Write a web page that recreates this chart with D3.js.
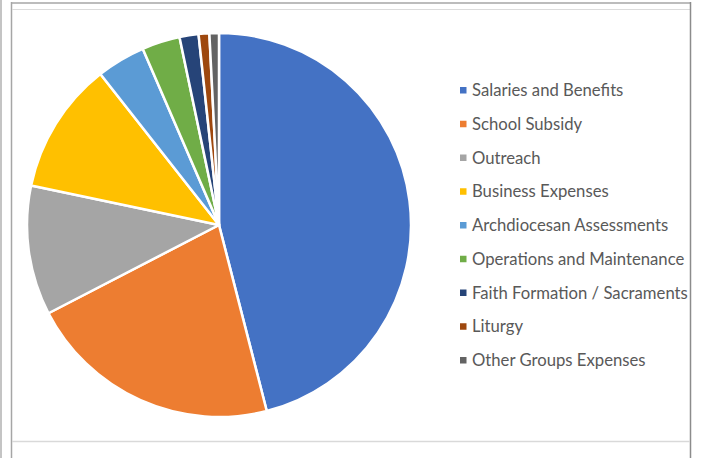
<!DOCTYPE html>
<html><head><meta charset="utf-8">
<script src="https://cdn.jsdelivr.net/npm/d3@7"></script>
<style>body{margin:0;background:#fff}svg{display:block}</style>
</head><body>
<script>
const categories = ["Salaries and Benefits","School Subsidy","Outreach","Business Expenses","Archdiocesan Assessments","Operations and Maintenance","Faith Formation / Sacraments","Liturgy","Other Groups Expenses"];
const values = [46.0,21.4,10.9,11.1,4.1,3.2,1.6,0.9,0.8];
const colors = ["#4472C4","#ED7D31","#A5A5A5","#FFC000","#5B9BD5","#70AD47","#264478","#9E480E","#636363"];

const W=704,H=458;
const svg=d3.select("body").append("svg").attr("width",W).attr("height",H);

// frame lines
svg.append("line").attr("x1",1).attr("x2",1).attr("y1",0).attr("y2",H).attr("stroke","#c4c4c4").attr("stroke-width",2);
svg.append("line").attr("x1",11.5).attr("x2",11.5).attr("y1",2).attr("y2",H).attr("stroke","#a6a6a6").attr("stroke-width",1.5);
svg.append("line").attr("x1",11).attr("x2",691).attr("y1",3).attr("y2",3).attr("stroke","#a6a6a6").attr("stroke-width",1.5);
svg.append("line").attr("x1",12).attr("x2",690).attr("y1",9.5).attr("y2",9.5).attr("stroke","#dcdcdc").attr("stroke-width",1);
svg.append("line").attr("x1",690.5).attr("x2",690.5).attr("y1",2).attr("y2",H).attr("stroke","#8c8c8c").attr("stroke-width",1.5);
svg.append("line").attr("x1",12).attr("x2",690).attr("y1",441.5).attr("y2",441.5).attr("stroke","#d9d9d9").attr("stroke-width",1.5);

const cx=219, cy=225, r=192;
const pie=d3.pie().sort(null).value(d=>d)(values);
const arc=d3.arc().innerRadius(0).outerRadius(r);
svg.append("g").attr("transform",`translate(${cx},${cy})`)
  .selectAll("path").data(pie).join("path")
  .attr("d",arc).attr("fill",(d,i)=>colors[i])
  .attr("stroke","#fff").attr("stroke-width",2.5).attr("stroke-linejoin","round");

const y=d3.scalePoint().domain(categories).range([90,360]);
const lg=svg.append("g");
categories.forEach((c,i)=>{
  lg.append("rect").attr("x",460).attr("y",y(c)-3).attr("width",6.5).attr("height",6.5).attr("fill",colors[i]);
  lg.append("text").attr("x",472).attr("y",y(c)).attr("dy","0.36em")
    .attr("font-family","Lato, 'Noto Sans', sans-serif").attr("font-size",16.7)
    .attr("fill","#595959").text(c);
});
</script>
</body></html>
